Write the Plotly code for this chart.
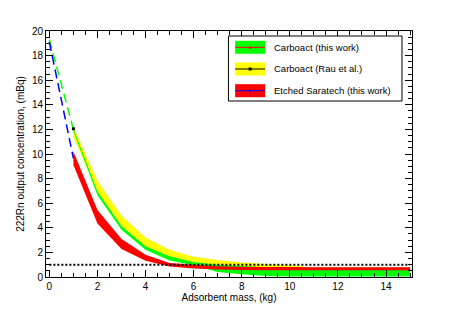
import plotly.graph_objects as go

# ---- data ----
mass = [1, 2, 3, 4, 5, 6, 7, 8, 9, 10, 11, 12, 13, 14, 15]

carb_low = [11.85, 6.64, 3.85, 2.22, 1.35, 0.95, 0.40, 0.22, 0.08, 0.05, 0.05, 0.05, 0.05, 0.05, 0.05]
carb_high = [12.05, 6.96, 4.15, 2.49, 1.68, 1.22, 1.00, 0.90, 0.80, 0.78, 0.76, 0.76, 0.76, 0.76, 0.76]

rau_low = [11.40, 6.96, 4.17, 2.49, 1.68, 1.22, 0.98, 0.85, 0.75, 0.70, 0.65, 0.65, 0.65, 0.65, 0.65]
rau_high = [12.20, 7.83, 4.98, 3.22, 2.22, 1.65, 1.38, 1.18, 1.06, 0.95, 0.78, 0.78, 0.78, 0.78, 0.78]

sar_low = [9.10, 4.35, 2.27, 1.33, 0.85, 0.70, 0.60, 0.56, 0.55, 0.55, 0.55, 0.55, 0.55, 0.55, 0.55]
sar_high = [10.20, 5.45, 3.09, 1.81, 1.14, 1.00, 0.88, 0.84, 0.82, 0.81, 0.80, 0.80, 0.80, 0.80, 0.80]

extrap_mass = [0, 1]
carb_extrap = [19.3, 12.0]
sar_extrap = [19.1, 9.65]

rau_first_mass = [1]
rau_first_value = [12.05]

limit_mass = [0, 15]
limit_level = [1, 1]

x_ticks = [0, 2, 4, 6, 8, 10, 12, 14]
y_ticks = [0, 2, 4, 6, 8, 10, 12, 14, 16, 18, 20]

legend_labels = ["Carboact (this work)", "Carboact (Rau et al.)", "Etched Saratech (this work)"]
legend_fill = ["#00ff00", "#ffff00", "#ff0000"]
legend_line = ["#ff0000", "#000000", "#0000ff"]

FONT = "Liberation Sans, Arial, Helvetica, sans-serif"

# page body has an 8px margin; all pixel positions below are window pixels
OFF = 8


def band(xs, lo, hi):
    return xs + xs[::-1], hi + lo[::-1]


fig = go.Figure()

for lo, hi, col in [(rau_low, rau_high, "#ffff00"),
                    (carb_low, carb_high, "#00ff00"),
                    (sar_low, sar_high, "#ff0000")]:
    bx, by = band(mass, lo, hi)
    fig.add_trace(go.Scatter(x=bx, y=by, fill="toself", fillcolor=col, mode="none",
                             line=dict(width=0), showlegend=False, hoverinfo="skip"))

fig.add_trace(go.Scatter(x=extrap_mass, y=carb_extrap, mode="lines",
                         line=dict(color="#00ff00", width=1.5, dash="9px,5px"), showlegend=False))
fig.add_trace(go.Scatter(x=extrap_mass, y=sar_extrap, mode="lines",
                         line=dict(color="#0000ff", width=1.5, dash="9px,5px"), showlegend=False))
fig.add_trace(go.Scatter(x=rau_first_mass, y=rau_first_value, mode="markers",
                         marker=dict(color="black", size=3, symbol="square"), showlegend=False))
fig.add_trace(go.Scatter(x=limit_mass, y=limit_level, mode="lines",
                         line=dict(color="black", width=2, dash="2px,2px"), showlegend=False))

# ---- manual legend (ROOT style) ----
L, R, T, B = 46, 411.7, 31, 277
W_FIG, H_FIG = 457 - OFF, 309 - OFF


def px(v):
    return (v - L) / (R - L)


def py(v):
    return (B - v) / (B - T)


shapes = [dict(type="rect", xref="paper", yref="paper", x0=px(228.3), x1=px(401.7),
               y0=py(101), y1=py(36), line=dict(color="black", width=1), fillcolor="white", layer="above")]
annotations = []
rows = [47.3, 69.0, 90.7]
for i, yc in enumerate(rows):
    shapes.append(dict(type="rect", xref="paper", yref="paper", x0=px(235), x1=px(265),
                       y0=py(yc + 6.5), y1=py(yc - 6.5), line=dict(width=0),
                       fillcolor=legend_fill[i], layer="above"))
    shapes.append(dict(type="line", xref="paper", yref="paper", x0=px(235), x1=px(265),
                       y0=py(yc), y1=py(yc), line=dict(color=legend_line[i], width=1), layer="above"))
    if i == 0:
        path = f"M{px(248.5)},{py(yc + 1.5)} L{px(251.5)},{py(yc + 1.5)} L{px(250)},{py(yc - 1.8)} Z"
        shapes.append(dict(type="path", xref="paper", yref="paper", path=path,
                           fillcolor=legend_line[i], line=dict(width=0), layer="above"))
    elif i == 1:
        shapes.append(dict(type="rect", xref="paper", yref="paper", x0=px(248.5), x1=px(251.5),
                           y0=py(yc + 1.5), y1=py(yc - 1.5), fillcolor="black",
                           line=dict(width=0), layer="above"))
    else:
        shapes.append(dict(type="circle", xref="paper", yref="paper", x0=px(248.8), x1=px(251.2),
                           y0=py(yc + 1.2), y1=py(yc - 1.2), fillcolor=legend_line[i],
                           line=dict(width=0), layer="above"))
    annotations.append(dict(xref="paper", yref="paper", x=px(272), y=py(yc), text=legend_labels[i],
                            showarrow=False, xanchor="left", yanchor="middle",
                            font=dict(family=FONT, size=9.5, color="black")))

axis_common = dict(showgrid=False, zeroline=False, showline=True, linecolor="black", linewidth=1,
                   mirror="ticks", ticks="inside", ticklen=7, tickwidth=1, tickcolor="black",
                   tickfont=dict(family=FONT, size=10, color="black"), automargin=False)

fig.update_layout(
    width=W_FIG, height=H_FIG,
    margin=dict(l=L - OFF, r=W_FIG - (R - OFF), t=T - OFF, b=H_FIG - (B - OFF), pad=0),
    paper_bgcolor="white", plot_bgcolor="white",
    showlegend=False,
    shapes=shapes, annotations=annotations,
    xaxis=dict(range=[-0.14, 15.08], tickvals=x_ticks,
               minor=dict(dtick=0.5, tick0=0, ticks="inside", ticklen=4, tickcolor="black"),
               title=dict(text="Adsorbent mass, (kg)", font=dict(family=FONT, size=10, color="black"),
                          standoff=0),
               **axis_common),
    yaxis=dict(range=[0, 20], tickvals=y_ticks,
               minor=dict(dtick=0.5, tick0=0, ticks="inside", ticklen=4, tickcolor="black"),
               title=dict(text="222Rn output concentration, (mBq)",
                          font=dict(family=FONT, size=10, color="black"), standoff=5),
               **axis_common),
)

fig.write_html("out.html")
